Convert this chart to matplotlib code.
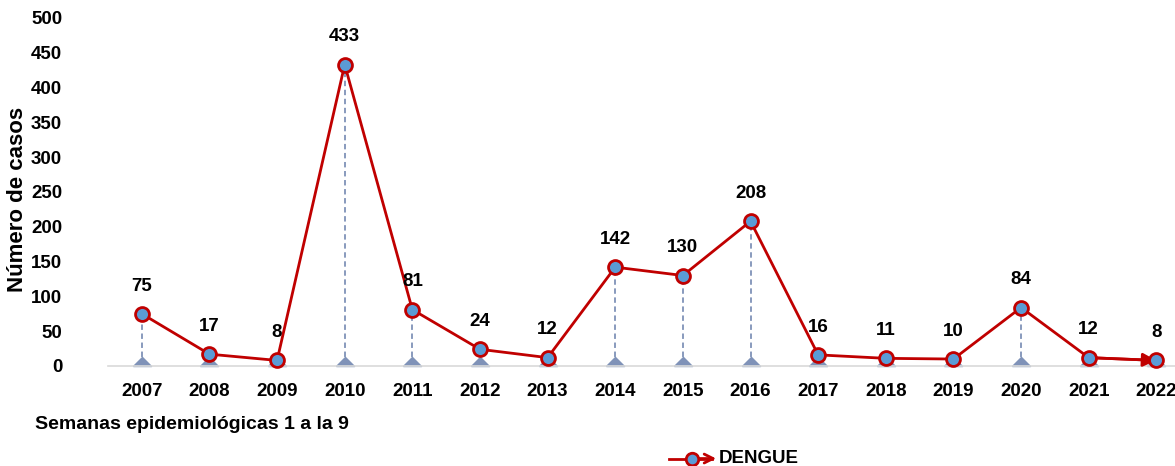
import numpy as np
import matplotlib
matplotlib.use("Agg")
import matplotlib.pyplot as plt
from matplotlib.path import Path

years = ["2007", "2008", "2009", "2010", "2011", "2012", "2013", "2014",
         "2015", "2016", "2017", "2018", "2019", "2020", "2021", "2022"]
dengue = [75, 17, 8, 433, 81, 24, 12, 142, 130, 208, 16, 11, 10, 84, 12, 8]
yticks = [0, 50, 100, 150, 200, 250, 300, 350, 400, 450, 500]

plt.rcParams['font.family'] = ['Liberation Sans', 'DejaVu Sans']
plt.rcParams['font.weight'] = 'bold'

red = "#C00000"
blue = "#5B9BD5"
drop = "#7F92B8"

fig = plt.figure(figsize=(11.75, 4.66), dpi=100)
ax = fig.add_axes([0.0919, 0.2146, 0.921, 0.7468])

x = np.arange(len(years))

# triangulo con la base sobre el eje
tri = Path([(-1, 0), (1, 0), (0, 1.0), (-1, 0)])

ax.vlines(x, 0, dengue, colors=drop, linestyles=(0, (3, 2)), linewidth=1.3, zorder=1)
ax.scatter(x, np.zeros(len(x)), marker=tri, s=170, color=drop, zorder=2, clip_on=False)

ax.plot(x, dengue, color=red, linewidth=2, zorder=3)
ax.annotate("", xy=(x[-1], dengue[-1]), xytext=(x[-2], dengue[-2]),
            arrowprops=dict(arrowstyle="-|>", color=red, lw=2, mutation_scale=20,
                            shrinkA=0, shrinkB=0), zorder=3)
ax.plot(x, dengue, linestyle="none", marker="o", markersize=10,
        markerfacecolor=blue, markeredgecolor=red, markeredgewidth=2, zorder=4,
        clip_on=False)

for xi, v in zip(x, dengue):
    ax.annotate(str(v), (xi, v), xytext=(0, 20), textcoords="offset points",
                ha="center", va="center", fontsize=13.5, fontweight="bold")

ax.set_xlim(-0.5, len(years) - 0.5)
ax.set_ylim(0, 500)
ax.set_yticks(yticks)
ax.set_xticks(x)
ax.set_xticklabels(years)
ax.tick_params(axis="both", length=0, labelsize=13.5)
ax.tick_params(axis="x", pad=12)
ax.tick_params(axis="y", pad=33)
for s in ["top", "right", "left"]:
    ax.spines[s].set_visible(False)
ax.spines["bottom"].set_color("#D9D9D9")
ax.spines["bottom"].set_linewidth(1.2)

ax.set_ylabel("Número de casos", fontsize=16, fontweight="bold")
ax.yaxis.set_label_coords(-0.074, 0.48)

fig.text(0.03, 0.088, "Semanas epidemiológicas 1 a la 9", fontsize=14,
         fontweight="bold", va="center")

# leyenda
ly = 0.016
fig.add_artist(plt.Line2D([0.569, 0.606], [ly, ly], color=red, lw=2,
                          transform=fig.transFigure))
fig.add_artist(matplotlib.patches.FancyArrowPatch((0.595, ly), (0.6095, ly),
               arrowstyle="->", mutation_scale=16, color=red, lw=2,
               shrinkA=0, shrinkB=0, transform=fig.transFigure))
fig.add_artist(plt.Line2D([0.589], [ly], marker="o", markersize=9,
                          markerfacecolor=blue, markeredgecolor=red,
                          markeredgewidth=2, transform=fig.transFigure))
fig.text(0.612, ly, "DENGUE", fontsize=13.5, fontweight="bold", va="center")

fig.savefig("out.png", dpi=100)
